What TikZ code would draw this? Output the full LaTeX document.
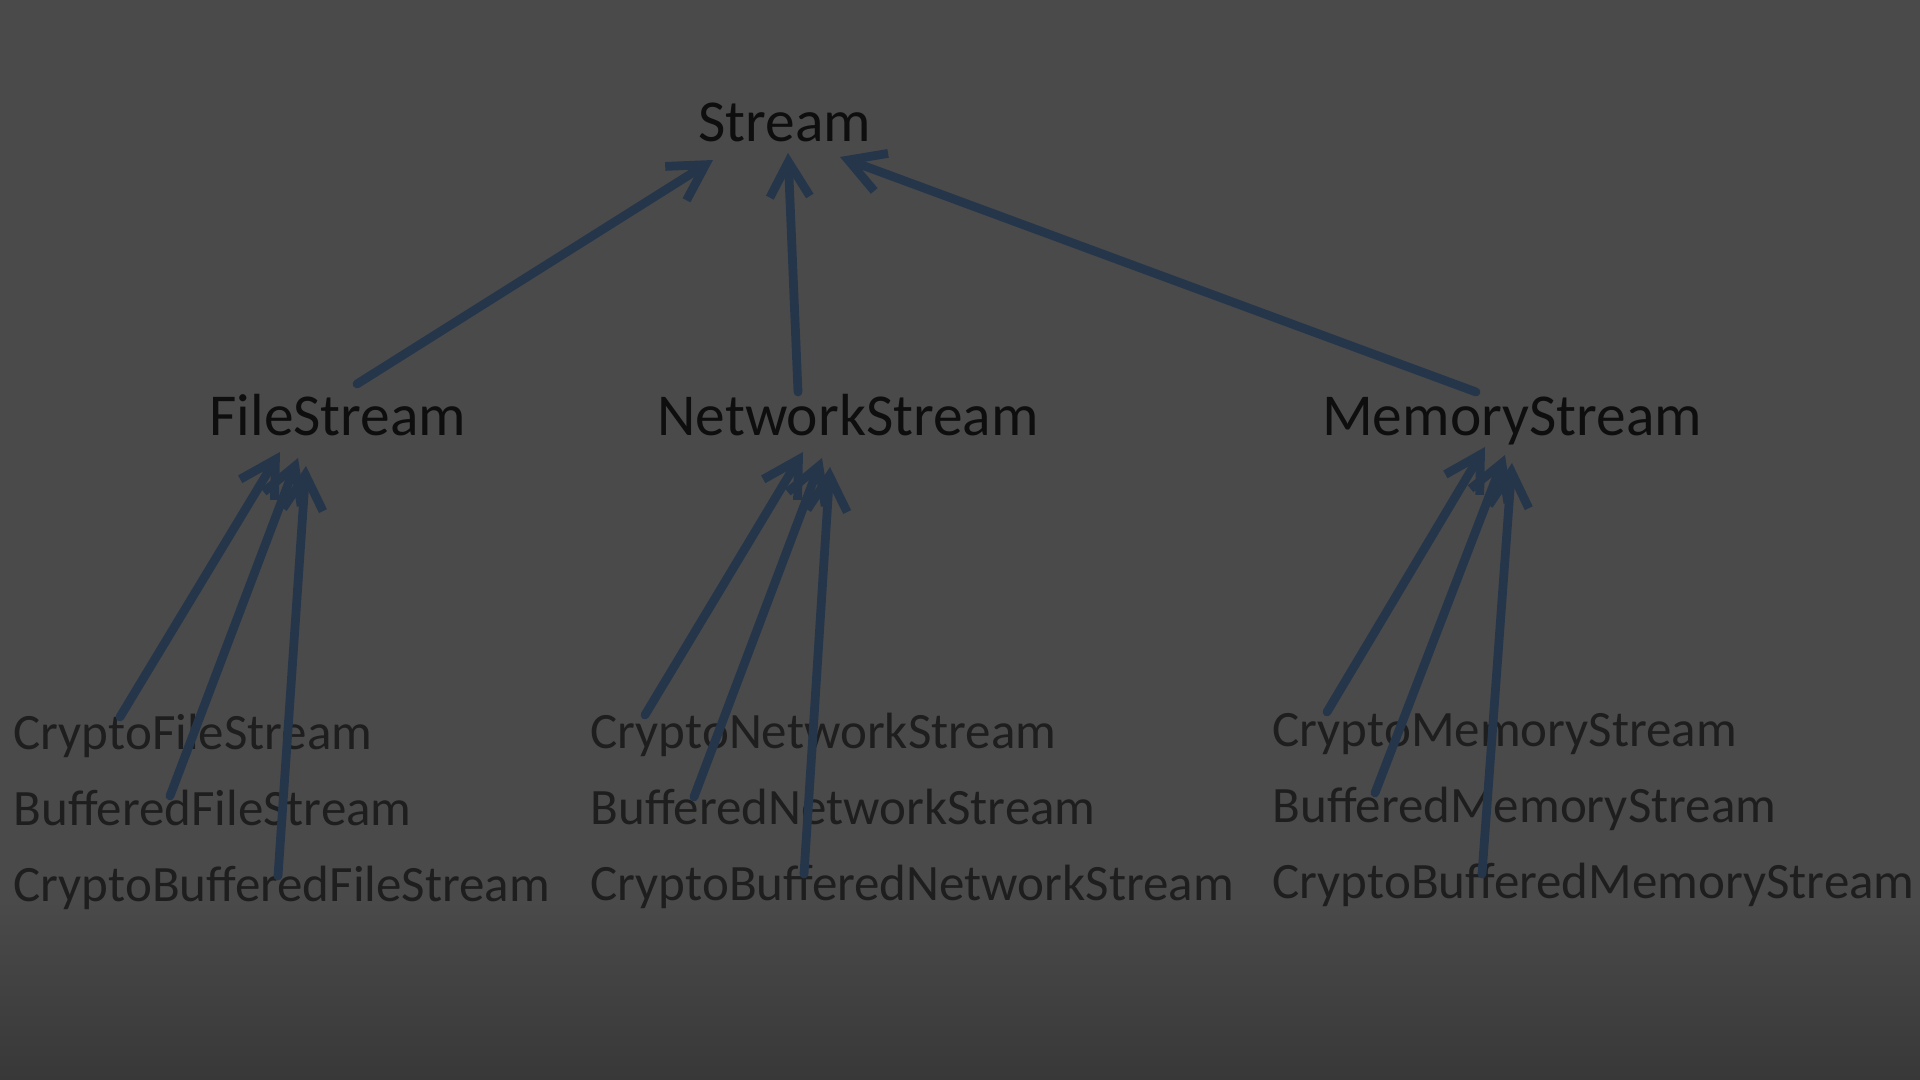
\documentclass[tikz,border=0pt]{standalone}
\usepackage{fontspec}
\setmainfont{Carlito}
\usetikzlibrary{arrows.meta}
\definecolor{slidebg}{HTML}{4A4A4A}
\definecolor{slidebot}{HTML}{383838}
\definecolor{inkblue}{HTML}{26364A}
\definecolor{labelink}{HTML}{0E0E0E}
\definecolor{subink}{HTML}{1E1E1E}
\tikzset{
  classname/.style={inner sep=0pt, anchor=base, text=labelink, font=\fontsize{16.9pt}{20pt}\selectfont},
  subname/.style={inner sep=0pt, anchor=base west, text=subink, font=\fontsize{14.5pt}{17pt}\selectfont},
  inh/.style={inkblue, line width=2.5pt, line cap=round, -{Straight Barb[length=0.35cm,width=0.4cm]}}
}
\begin{document}
\begin{tikzpicture}[x=0.01cm,y=-0.01cm]
  \fill[slidebg] (0,0) rectangle (1920,1080);
  \shade[top color=slidebg, bottom color=slidebot] (0,900) rectangle (1920,1080);
  \useasboundingbox (0,0) rectangle (1920,1080);
  % class names
  \node[classname] (stream) at (785,142) {Stream};
  \node[classname] (file) at (338,436) {FileStream};
  \node[classname] (net) at (848,436) {NetworkStream};
  \node[classname] (mem) at (1512,436) {MemoryStream};
  \foreach \k/\x/\y/\w in {file/13/750/File,net/590/749/Network,mem/1272/747/Memory}{
    \node[subname] (c\k) at (\x,\y) {Crypto\w Stream};
    \node[subname] (b\k) at (\x,\y+76) {Buffered\w Stream};
    \node[subname] (cb\k) at (\x,\y+152) {CryptoBuffered\w Stream};
  }
  % inheritance arrows
  \draw[inh] ([shift={(19,-52)}]file.base) -- ([shift={(-72,18)}]stream.base);
  \draw[inh] ([shift={(-50,-44)}]net.base) -- ([shift={(3,11)}]stream.base);
  \draw[inh] ([shift={(-36,-44)}]mem.base) -- ([shift={(55,15)}]stream.base);
  \foreach \c/\p/\tx/\ty/\hx/\hy in {cfile/file/107/-33/-58/16, bfile/file/157/-30/-40/22, cbfile/file/265/-26/-32/30,
      cnet/net/55/-34/-45/16, bnet/net/104/-28/-26/22, cbnet/net/214/-27/-18/31,
      cmem/mem/55/-35/-27/11, bmem/mem/103/-30/-7/19, cbmem/mem/210/-25/0/27}
    \draw[inh] ([shift={(\tx,\ty)}]\c.base west) -- ([shift={(\hx,\hy)}]\p.base);
\end{tikzpicture}
\end{document}
